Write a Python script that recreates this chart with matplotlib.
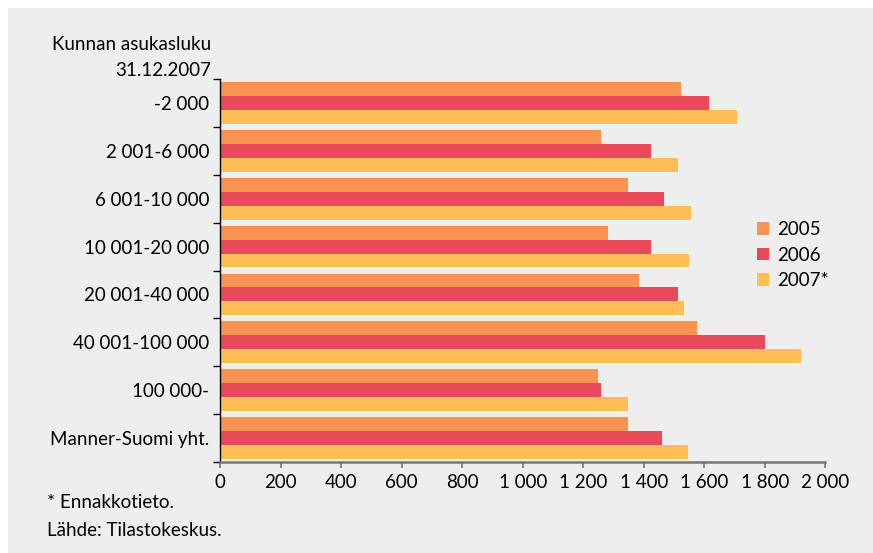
import numpy as np
import matplotlib.pyplot as plt
from matplotlib.patches import Rectangle, Patch

categories = ['-2 000', '2 001-6 000', '6 001-10 000', '10 001-20 000',
              '20 001-40 000', '40 001-100 000', '100 000-', 'Manner-Suomi yht.']
v2005 = [1523, 1258, 1348, 1282, 1384, 1576, 1248, 1348]
v2006 = [1616, 1424, 1467, 1424, 1513, 1801, 1258, 1460]
v2007 = [1708, 1513, 1556, 1550, 1533, 1920, 1348, 1546]
series = ['2005', '2006', '2007*']
colors = ['#f7944f', '#e94a5a', '#ffbd58']
xticks = np.arange(0, 2001, 200)
xticklabels = ['{:,}'.format(t).replace(',', ' ') for t in xticks]

plt.rcParams['font.family'] = ['Lato', 'DejaVu Sans']
fontsize = 13.5
W, H = 873, 553

fig = plt.figure(figsize=(W / 100, H / 100), dpi=100)
fig.patch.set_facecolor('white')
# gray panel behind everything
fig.patches.append(Rectangle((8 / W, 0), 1, 1 - 8 / H, transform=fig.transFigure,
                             facecolor='#eeeeee', edgecolor='none', zorder=-1))

ax = fig.add_axes([220.3 / W, 91 / H, 605 / W, 383 / H])
ax.set_facecolor('none')

y = np.arange(len(categories))
h = 0.29
for k, (vals, col) in enumerate(zip([v2005, v2006, v2007], colors)):
    ax.barh(y + (k - 1) * h, vals, height=h, color=col, edgecolor='none', label=series[k])

ax.set_xlim(0, 2000)
ax.set_ylim(len(categories) - 0.5, -0.5)

# y axis: ticks at group boundaries, labels at centers
ax.set_yticks(np.arange(-0.5, len(categories), 1.0))
ax.set_yticklabels([])
ax.set_yticks(y, minor=True)
ax.set_yticklabels(categories, minor=True)
ax.tick_params(axis='y', which='major', length=5, width=1, color='black', direction='out')
ax.tick_params(axis='y', which='minor', length=0, pad=8, labelsize=fontsize)

ax.set_xticks(xticks)
ax.set_xticklabels(xticklabels)
ax.tick_params(axis='x', length=4, width=1.2, color='#777777', direction='out',
               labelsize=fontsize, pad=5)

for s in ['top', 'right']:
    ax.spines[s].set_visible(False)
ax.spines['left'].set_color('black')
ax.spines['left'].set_linewidth(1)
ax.spines['bottom'].set_color('#777777')
ax.spines['bottom'].set_linewidth(1.8)

fig.text(211 / W, 1 - 45 / H, 'Kunnan asukasluku', ha='right', va='center', fontsize=fontsize)
fig.text(211 / W, 1 - 70 / H, '31.12.2007', ha='right', va='center', fontsize=fontsize)

fig.text(47 / W, 1 - 503 / H, '* Ennakkotieto.', ha='left', va='center', fontsize=fontsize)
fig.text(47 / W, 1 - 530 / H, 'Lähde: Tilastokeskus.', ha='left', va='center', fontsize=fontsize)

handles = [Patch(facecolor=c, edgecolor='none') for c in colors]
fig.legend(handles, series, loc='upper left', bbox_to_anchor=(744 / W, 1 - 208 / H),
           frameon=False, fontsize=fontsize, handlelength=0.65, handleheight=0.65,
           handletextpad=0.4, labelspacing=0.45, borderpad=0.2)

fig.savefig('out.png', dpi=100, facecolor=fig.get_facecolor())
